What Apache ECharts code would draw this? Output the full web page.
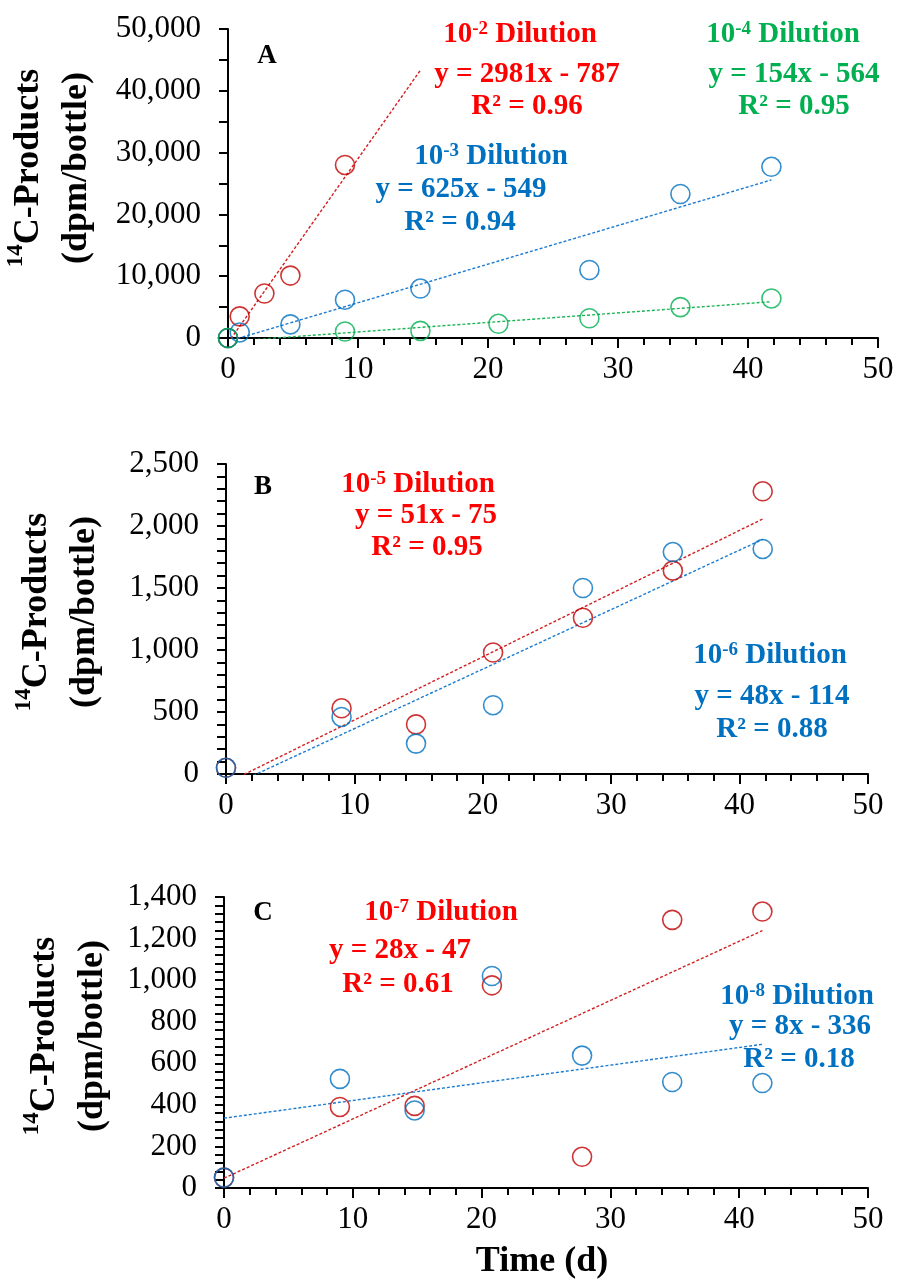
<!DOCTYPE html>
<html>
<head>
<meta charset="utf-8">
<script src="https://cdn.jsdelivr.net/npm/echarts@6/dist/echarts.min.js"></script>
<style>
  html, body { margin: 0; padding: 0; background: #fff; }
  #chart { width: 900px; height: 1281px; }
</style>
</head>
<body>
<div id="chart"></div>
<script>
// Sampling days used in panels B and C
const daysBC = [0, 9.0, 14.8, 20.8, 27.8, 34.8, 41.8];

// Panel A: 14C-products (dpm/bottle)
const dil2X = [0, 0.9, 2.8, 4.8, 9.0];
const dil2Y = [0, 3500, 7200, 10100, 28000];
const dil3X = [0, 0.9, 4.8, 9.0, 14.8, 27.8, 34.8, 41.8];
const dil3Y = [0, 900, 2200, 6200, 8000, 11000, 23300, 27700];
const dil4X = [0, 9.0, 14.8, 20.8, 27.8, 34.8, 41.8];
const dil4Y = [0, 1050, 1150, 2300, 3200, 5000, 6400];

// Panel B
const dil5Y = [50, 530, 400, 980, 1260, 1640, 2280];
const dil6Y = [50, 460, 245, 555, 1500, 1790, 1815];

// Panel C
const dil7Y = [50, 390, 395, 975, 150, 1290, 1330];
const dil8Y = [50, 525, 373, 1020, 637, 510, 505];

// Linear trendlines: [slope, intercept, xStart, xEnd]
const trend2 = [2981, -787, 0, 14.8];
const trend3 = [625, -549, 0, 41.8];
const trend4 = [154, -564, 0, 41.8];
const trend5 = [51, -75, 0, 41.8];
const trend6 = [48, -114, 0, 41.8];
const trend7 = [28.5, 47, 0, 41.8];
const trend8 = [8.5, 336, 0, 41.8];

// Axis ranges and tick labels
const xTicks = [0, 10, 20, 30, 40, 50];
const yTicksA = [0, 10000, 20000, 30000, 40000, 50000];
const yTicksB = [0, 500, 1000, 1500, 2000, 2500];
const yTicksC = [0, 200, 400, 600, 800, 1000, 1200, 1400];

// Annotation texts
const labelsA = {
  d2: ['10', '-2', ' Dilution'], e2: 'y = 2981x - 787', r2: 'R² = 0.96',
  d3: ['10', '-3', ' Dilution'], e3: 'y = 625x - 549', r3: 'R² = 0.94',
  d4: ['10', '-4', ' Dilution'], e4: 'y = 154x - 564', r4: 'R² = 0.95'
};
const labelsB = {
  d5: ['10', '-5', ' Dilution'], e5: 'y = 51x - 75', r5: 'R² = 0.95',
  d6: ['10', '-6', ' Dilution'], e6: 'y = 48x - 114', r6: 'R² = 0.88'
};
const labelsC = {
  d7: ['10', '-7', ' Dilution'], e7: 'y = 28x - 47', r7: 'R² = 0.61',
  d8: ['10', '-8', ' Dilution'], e8: 'y = 8x - 336', r8: 'R² = 0.18'
};

const FONT = '"Liberation Serif", "Times New Roman", serif';
const RED_M = '#C00000', RED_T = '#FF0000', RED_L = '#D21F1F';
const BLUE = '#0070C0', BLUE_L = '#1A7BD0';
const GREEN = '#00B050', GREEN_L = '#1DB455';
const TICK_FS = 31, NOTE_FS = 29;

function zip(xs, ys) { return xs.map((x, i) => [x, ys[i]]); }
function trendPts(t) { return [[t[2], t[0] * t[2] + t[1]], [t[3], t[0] * t[3] + t[1]]]; }

function scatter(idx, data, color) {
  return {
    type: 'scatter', xAxisIndex: idx, yAxisIndex: idx, data: data,
    symbol: 'circle', symbolSize: 19,
    itemStyle: { color: 'rgba(0,0,0,0)', borderColor: color, borderWidth: 1.6 },
    z: 3, silent: true
  };
}
function trend(idx, t, color) {
  return {
    type: 'line', xAxisIndex: idx, yAxisIndex: idx, data: trendPts(t),
    showSymbol: false, symbol: 'none', clip: true, z: 2, silent: true,
    lineStyle: { color: color, width: 1.4, type: [3, 2] }
  };
}

const grids = [
  { left: 228, top: 29, width: 650, height: 309 },
  { left: 226, top: 464, width: 642, height: 310 },
  { left: 224, top: 897, width: 644, height: 291 }
];

function xAxis(idx) {
  return {
    type: 'value', gridIndex: idx, min: xTicks[0], max: xTicks[xTicks.length - 1], interval: 10,
    axisLine: { show: true, onZero: false, lineStyle: { color: '#000', width: 2 } },
    axisTick: { show: true, inside: false, length: 10, lineStyle: { color: '#000', width: 2 } },
    minorTick: { show: true, splitNumber: 5, length: 7, lineStyle: { color: '#000', width: 2 } },
    splitLine: { show: false },
    axisLabel: { color: '#000', fontFamily: FONT, fontSize: TICK_FS, margin: 16 }
  };
}
function yAxis(idx, ticks, interval, minorSplit) {
  return {
    type: 'value', gridIndex: idx, min: ticks[0], max: ticks[ticks.length - 1], interval: interval,
    axisLine: { show: true, onZero: false, lineStyle: { color: '#000', width: 2 } },
    axisTick: { show: true, inside: false, length: 9, lineStyle: { color: '#000', width: 2 } },
    minorTick: { show: true, splitNumber: minorSplit, length: 9, lineStyle: { color: '#000', width: 2 } },
    splitLine: { show: false },
    axisLabel: { color: '#000', fontFamily: FONT, fontSize: TICK_FS, margin: 27,
      formatter: v => v.toLocaleString('en-US') }
  };
}

// Rich text helpers for annotations
function label(x, y, text, color) {
  return {
    type: 'text', x: x, y: y, z: 10, silent: true,
    style: { text: text, fill: color, font: 'bold ' + NOTE_FS + 'px ' + FONT, align: 'center', verticalAlign: 'middle' }
  };
}
function dilLabel(x, y, parts, color) {
  return {
    type: 'text', x: x, y: y, z: 10, silent: true,
    style: {
      text: '{n|' + parts[0] + '}{s|' + parts[1] + '}{n|' + parts[2] + '}',
      fill: color, align: 'center', verticalAlign: 'middle',
      rich: {
        n: { fontFamily: FONT, fontWeight: 'bold', fontSize: NOTE_FS, lineHeight: 31, fill: color },
        s: { fontFamily: FONT, fontWeight: 'bold', fontSize: 19, lineHeight: 31, verticalAlign: 'top', padding: [0, 0, 12, 0], fill: color }
      }
    }
  };
}
function panelLetter(x, y, t) {
  return { type: 'text', x: x, y: y, z: 10, silent: true,
    style: { text: t, fill: '#000', font: 'bold 27px ' + FONT, align: 'center', verticalAlign: 'middle' } };
}
function yTitle(x, y) {
  return {
    type: 'text', x: x, y: y, rotation: Math.PI / 2, z: 10, silent: true,
    style: {
      text: '{sup|14}{b|C-Products}\n{b|(dpm/bottle)}',
      fill: '#000', align: 'center', verticalAlign: 'middle',
      rich: {
        b: { fontFamily: FONT, fontWeight: 'bold', fontSize: 36, lineHeight: 48, fill: '#000' },
        sup: { fontFamily: FONT, fontWeight: 'bold', fontSize: 23, lineHeight: 48, verticalAlign: 'top', padding: [0, 0, 14, 0], fill: '#000' }
      }
    }
  };
}

const graphics = [
  yTitle(53, 168), yTitle(61, 612), yTitle(69, 1036),
  { type: 'text', x: 542, y: 1262, z: 10, silent: true,
    style: { text: 'Time (d)', fill: '#000', font: 'bold 36px ' + FONT, align: 'center', verticalAlign: 'middle' } },
  panelLetter(267, 56, 'A'), panelLetter(263, 487, 'B'), panelLetter(263, 913, 'C'),
  // Panel A
  dilLabel(520, 35, labelsA.d2, RED_T), label(527, 75, labelsA.e2, RED_T), label(527, 107, labelsA.r2, RED_T),
  dilLabel(491, 157, labelsA.d3, BLUE), label(461, 190, labelsA.e3, BLUE), label(460, 223, labelsA.r3, BLUE),
  dilLabel(783, 35, labelsA.d4, GREEN), label(794, 75, labelsA.e4, GREEN), label(794, 107, labelsA.r4, GREEN),
  // Panel B
  dilLabel(418, 485, labelsB.d5, RED_T), label(426, 516, labelsB.e5, RED_T), label(427, 548, labelsB.r5, RED_T),
  dilLabel(770, 656, labelsB.d6, BLUE), label(772, 697, labelsB.e6, BLUE), label(772, 730, labelsB.r6, BLUE),
  // Panel C
  dilLabel(441, 913, labelsC.d7, RED_T), label(400, 951, labelsC.e7, RED_T), label(398, 985, labelsC.r7, RED_T),
  dilLabel(797, 997, labelsC.d8, BLUE), label(800, 1027, labelsC.e8, BLUE), label(799, 1060, labelsC.r8, BLUE)
];

const option = {
  animation: false,
  backgroundColor: '#fff',
  grid: grids,
  xAxis: [xAxis(0), xAxis(1), xAxis(2)],
  yAxis: [
    yAxis(0, yTicksA, 10000, 2),
    yAxis(1, yTicksB, 500, 5),
    yAxis(2, yTicksC, 200, 5)
  ],
  series: [
    trend(0, trend2, RED_L), trend(0, trend3, BLUE_L), trend(0, trend4, GREEN_L),
    scatter(0, zip(dil2X, dil2Y), RED_M),
    scatter(0, zip(dil3X, dil3Y), BLUE),
    scatter(0, zip(dil4X, dil4Y), GREEN),
    trend(1, trend5, RED_L), trend(1, trend6, BLUE_L),
    scatter(1, zip(daysBC, dil5Y), RED_M),
    scatter(1, zip(daysBC, dil6Y), BLUE),
    trend(2, trend7, RED_L), trend(2, trend8, BLUE_L),
    scatter(2, zip(daysBC, dil7Y), RED_M),
    scatter(2, zip(daysBC, dil8Y), BLUE)
  ],
  graphic: graphics
};

const chart = echarts.init(document.getElementById('chart'), null, { renderer: 'canvas' });
chart.setOption(option);
</script>
</body>
</html>
